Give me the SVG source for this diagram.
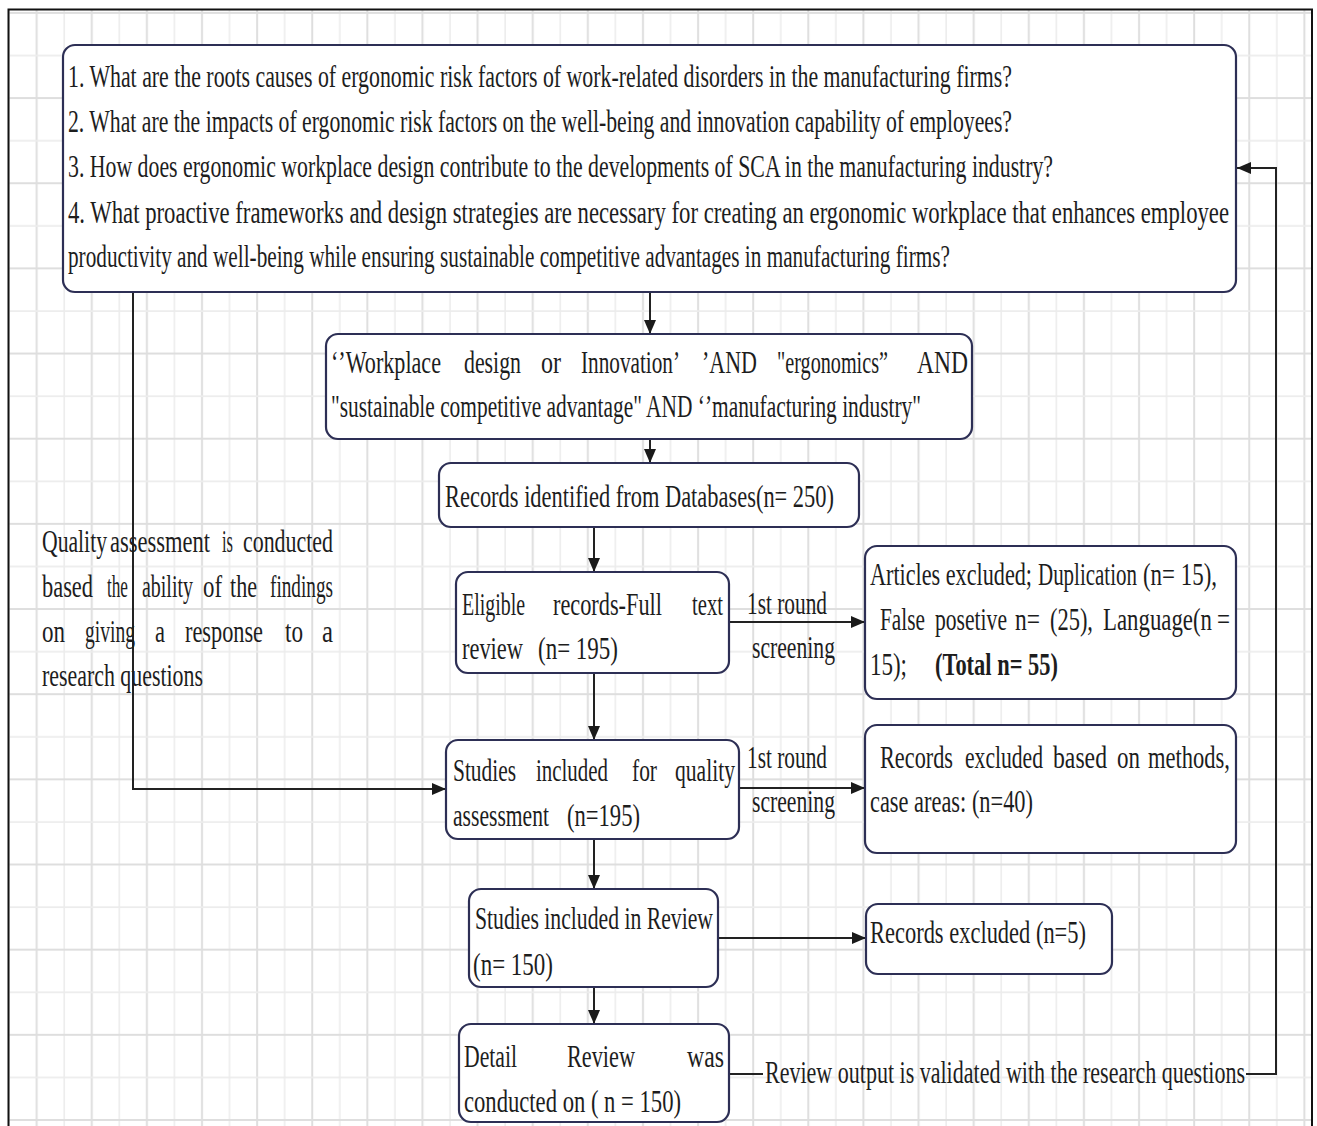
<svg xmlns="http://www.w3.org/2000/svg" width="1317" height="1126" viewBox="0 0 1317 1126">
  <style>
    .t { font-family: "Liberation Serif", "Times New Roman", serif; font-size: 32px; fill: #1d1d1d; }
    .b { font-weight: bold; }
    .box { fill: #ffffff; stroke: #2d2f55; stroke-width: 2.2; }
    .conn { fill: none; stroke: #222222; stroke-width: 2; }
  </style>
  <defs>
    <pattern id="grid" patternUnits="userSpaceOnUse" x="-0.9" y="3" width="55.12" height="85.16">
      <line x1="10" y1="0" x2="10" y2="85.16" stroke="#ededed" stroke-width="1.6"/>
      <line x1="37.56" y1="0" x2="37.56" y2="85.16" stroke="#dedede" stroke-width="2"/>
      <line x1="0" y1="10" x2="55.12" y2="10" stroke="#dedede" stroke-width="2"/>
      <line x1="0" y1="52.58" x2="55.12" y2="52.58" stroke="#ececec" stroke-width="1.6"/>
    </pattern>
    <marker id="arrow" markerUnits="userSpaceOnUse" markerWidth="14" markerHeight="12" refX="14" refY="6" orient="auto">
      <path d="M0,0 L14,6 L0,12 z" fill="#1a1a1a"/>
    </marker>
  </defs>

  <!-- page background with grid; all text below is drawn in a narrowed (x 0.625) frame -->
  <rect x="0" y="0" width="1317" height="1126" fill="#ffffff"/>
  <rect x="9" y="10" width="1303" height="1116" fill="url(#grid)"/>
  <path d="M8.5,1126 V9.5 H1312 V1126" fill="none" stroke="#111111" stroke-width="2"/>

  <!-- connectors -->
  <g id="connectors">
    <path class="conn" d="M650,292 V334" marker-end="url(#arrow)"/>
    <path class="conn" d="M650,440 V463" marker-end="url(#arrow)"/>
    <path class="conn" d="M594,527 V572" marker-end="url(#arrow)"/>
    <path class="conn" d="M729,622 H865" marker-end="url(#arrow)"/>
    <path class="conn" d="M594,673 V740" marker-end="url(#arrow)"/>
    <path class="conn" d="M739,788 H865" marker-end="url(#arrow)"/>
    <path class="conn" d="M594,839 V889" marker-end="url(#arrow)"/>
    <path class="conn" d="M718,938 H866" stroke-width="3" marker-end="url(#arrow)"/>
    <path class="conn" d="M594,987 V1024" marker-end="url(#arrow)"/>
    <path class="conn" d="M729,1074 H763"/>
    <path class="conn" d="M1246,1074 H1276 V168 H1237" marker-end="url(#arrow)"/>
    <path class="conn" d="M133,292 V789 H446" marker-end="url(#arrow)"/>
    <g transform="scale(0.625,1)">
      <text class="t" x="1224" y="1083" textLength="768" lengthAdjust="spacingAndGlyphs">Review output is validated with the research questions</text>
    </g>
  </g>

  <!-- research questions -->
  <g id="questions">
    <rect class="box" x="63" y="45" width="1173" height="247" rx="12"/>
    <g transform="scale(0.625,1)">
      <text class="t" x="108.8" y="87" textLength="1510.4" lengthAdjust="spacingAndGlyphs">1. What are the roots causes of ergonomic risk factors of work-related disorders in the manufacturing firms?</text>
      <text class="t" x="108.8" y="132" textLength="1510.4" lengthAdjust="spacingAndGlyphs">2. What are the impacts of ergonomic risk factors on the well-being and innovation capability of employees?</text>
      <text class="t" x="108.8" y="177" textLength="1576" lengthAdjust="spacingAndGlyphs">3. How does ergonomic workplace design contribute to the developments of SCA in the manufacturing industry?</text>
      <text class="t" x="108.8" y="223" textLength="1857.6" lengthAdjust="spacingAndGlyphs">4. What proactive frameworks and design strategies are necessary for creating an ergonomic workplace that enhances employee</text>
      <text class="t" x="108.8" y="267" textLength="1411.2" lengthAdjust="spacingAndGlyphs">productivity and well-being while ensuring sustainable competitive advantages in manufacturing firms?</text>
    </g>
  </g>

  <!-- search string -->
  <g id="search">
    <rect class="box" x="326" y="334" width="646" height="105" rx="12"/>
    <g transform="scale(0.625,1)">
      <text class="t" y="373"><tspan x="529.6" textLength="176" lengthAdjust="spacingAndGlyphs">‘’Workplace</tspan> <tspan x="742.4" textLength="91.2" lengthAdjust="spacingAndGlyphs">design</tspan> <tspan x="865.6" textLength="32" lengthAdjust="spacingAndGlyphs">or</tspan> <tspan x="929.6" textLength="158.4" lengthAdjust="spacingAndGlyphs">Innovation’</tspan> <tspan x="1123.2" textLength="88" lengthAdjust="spacingAndGlyphs">’AND</tspan> <tspan x="1243.2" textLength="177.6" lengthAdjust="spacingAndGlyphs">"ergonomics”</tspan> <tspan x="1467.2" textLength="81.6" lengthAdjust="spacingAndGlyphs">AND</tspan></text>
      <text class="t" x="529.6" y="417" textLength="944" lengthAdjust="spacingAndGlyphs">"sustainable competitive advantage" AND ‘’manufacturing industry"</text>
    </g>
  </g>

  <g id="identified">
    <rect class="box" x="439" y="463" width="420" height="64" rx="12"/>
    <g transform="scale(0.625,1)">
      <text class="t" x="712" y="507" textLength="622.4" lengthAdjust="spacingAndGlyphs">Records identified from Databases(n= 250)</text>
    </g>
  </g>

  <g id="eligible">
    <rect class="box" x="456" y="572" width="273" height="101" rx="12"/>
    <g transform="scale(0.625,1)">
      <text class="t" y="615"><tspan x="739.2" textLength="100.8" lengthAdjust="spacingAndGlyphs">Eligible</tspan> <tspan x="884.8" textLength="174.4" lengthAdjust="spacingAndGlyphs">records-Full</tspan> <tspan x="1107.2" textLength="49.6" lengthAdjust="spacingAndGlyphs">text</tspan></text>
      <text class="t" y="659"><tspan x="739.2" textLength="97.6" lengthAdjust="spacingAndGlyphs">review</tspan> <tspan x="860.8" textLength="128" lengthAdjust="spacingAndGlyphs">(n= 195)</tspan></text>
    </g>
  </g>

  <g id="screening-1">
    <g transform="scale(0.625,1)">
      <text class="t" x="1195.2" y="614" textLength="128" lengthAdjust="spacingAndGlyphs">1st round</text>
      <text class="t" x="1203.2" y="658" textLength="132.8" lengthAdjust="spacingAndGlyphs">screening</text>
    </g>
  </g>

  <g id="excluded-articles">
    <rect class="box" x="865" y="546" width="371" height="153" rx="12"/>
    <g transform="scale(0.625,1)">
      <text class="t" y="585"><tspan x="1392" textLength="259.2" lengthAdjust="spacingAndGlyphs">Articles excluded;</tspan> <tspan x="1660.8" textLength="158.4" lengthAdjust="spacingAndGlyphs">Duplication</tspan> <tspan x="1828.8" textLength="118.4" lengthAdjust="spacingAndGlyphs">(n= 15),</tspan></text>
      <text class="t" y="630"><tspan x="1408" textLength="72" lengthAdjust="spacingAndGlyphs">False</tspan> <tspan x="1496" textLength="115.2" lengthAdjust="spacingAndGlyphs">posetive</tspan> <tspan x="1624" textLength="40" lengthAdjust="spacingAndGlyphs">n=</tspan> <tspan x="1680" textLength="68.8" lengthAdjust="spacingAndGlyphs">(25),</tspan> <tspan x="1764.8" textLength="174.4" lengthAdjust="spacingAndGlyphs">Language(n</tspan> <tspan x="1947.2" textLength="20.8" lengthAdjust="spacingAndGlyphs">=</tspan></text>
      <text class="t" y="675"><tspan x="1392" textLength="59.2" lengthAdjust="spacingAndGlyphs">15);</tspan> <tspan class="b" x="1496" textLength="196.8" lengthAdjust="spacingAndGlyphs">(Total n= 55)</tspan></text>
    </g>
  </g>

  <g id="quality">
    <rect class="box" x="446" y="740" width="293" height="99" rx="12"/>
    <g transform="scale(0.625,1)">
      <text class="t" y="781"><tspan x="724.8" textLength="100.8" lengthAdjust="spacingAndGlyphs">Studies</tspan> <tspan x="857.6" textLength="115.2" lengthAdjust="spacingAndGlyphs">included</tspan> <tspan x="1011.2" textLength="40" lengthAdjust="spacingAndGlyphs">for</tspan> <tspan x="1080" textLength="96" lengthAdjust="spacingAndGlyphs">quality</tspan></text>
      <text class="t" y="826"><tspan x="724.8" textLength="153.6" lengthAdjust="spacingAndGlyphs">assessment</tspan> <tspan x="907.2" textLength="116.8" lengthAdjust="spacingAndGlyphs">(n=195)</tspan></text>
    </g>
  </g>

  <g id="screening-2">
    <g transform="scale(0.625,1)">
      <text class="t" x="1195.2" y="768" textLength="128" lengthAdjust="spacingAndGlyphs">1st round</text>
      <text class="t" x="1203.2" y="812" textLength="132.8" lengthAdjust="spacingAndGlyphs">screening</text>
    </g>
  </g>

  <g id="excluded-methods">
    <rect class="box" x="865" y="725" width="371" height="128" rx="12"/>
    <g transform="scale(0.625,1)">
      <text class="t" y="768"><tspan x="1408" textLength="116.8" lengthAdjust="spacingAndGlyphs">Records</tspan> <tspan x="1544" textLength="124.8" lengthAdjust="spacingAndGlyphs">excluded</tspan> <tspan x="1684.8" textLength="86.4" lengthAdjust="spacingAndGlyphs">based</tspan> <tspan x="1787.2" textLength="36.8" lengthAdjust="spacingAndGlyphs">on</tspan> <tspan x="1836.8" textLength="131.2" lengthAdjust="spacingAndGlyphs">methods,</tspan></text>
      <text class="t" x="1392" y="812" textLength="260.8" lengthAdjust="spacingAndGlyphs">case areas: (n=40)</text>
    </g>
  </g>

  <g id="included-review">
    <rect class="box" x="469" y="889" width="249" height="98" rx="12"/>
    <g transform="scale(0.625,1)">
      <text class="t" x="760" y="929" textLength="380.8" lengthAdjust="spacingAndGlyphs">Studies included in Review</text>
      <text class="t" x="756.8" y="975" textLength="128" lengthAdjust="spacingAndGlyphs">(n= 150)</text>
    </g>
  </g>

  <g id="excluded-five">
    <rect class="box" x="866" y="904" width="246" height="70" rx="12"/>
    <g transform="scale(0.625,1)">
      <text class="t" x="1392" y="943" textLength="345.6" lengthAdjust="spacingAndGlyphs">Records excluded (n=5)</text>
    </g>
  </g>

  <g id="detail-review">
    <rect class="box" x="459" y="1024" width="270" height="98" rx="12"/>
    <g transform="scale(0.625,1)">
      <text class="t" y="1067"><tspan x="742.4" textLength="84.8" lengthAdjust="spacingAndGlyphs">Detail</tspan> <tspan x="907.2" textLength="108.8" lengthAdjust="spacingAndGlyphs">Review</tspan> <tspan x="1099.2" textLength="59.2" lengthAdjust="spacingAndGlyphs">was</tspan></text>
      <text class="t" x="742.4" y="1112" textLength="347.2" lengthAdjust="spacingAndGlyphs">conducted on ( n = 150)</text>
    </g>
  </g>

  <!-- side note on quality assessment -->
  <g id="quality-note">
    <g transform="scale(0.625,1)">
      <text class="t" y="552"><tspan x="67.2" textLength="104" lengthAdjust="spacingAndGlyphs">Quality</tspan> <tspan x="176" textLength="160" lengthAdjust="spacingAndGlyphs">assessment</tspan> <tspan x="355.2" textLength="17.6" lengthAdjust="spacingAndGlyphs">is</tspan> <tspan x="388.8" textLength="144" lengthAdjust="spacingAndGlyphs">conducted</tspan></text>
      <text class="t" y="597"><tspan x="67.2" textLength="81.6" lengthAdjust="spacingAndGlyphs">based</tspan> <tspan x="171.2" textLength="33.6" lengthAdjust="spacingAndGlyphs">the</tspan> <tspan x="227.2" textLength="81.6" lengthAdjust="spacingAndGlyphs">ability</tspan> <tspan x="324.8" textLength="30.4" lengthAdjust="spacingAndGlyphs">of</tspan> <tspan x="368" textLength="43.2" lengthAdjust="spacingAndGlyphs">the</tspan> <tspan x="432" textLength="100.8" lengthAdjust="spacingAndGlyphs">findings</tspan></text>
      <text class="t" y="642"><tspan x="67.2" textLength="36.8" lengthAdjust="spacingAndGlyphs">on</tspan> <tspan x="136" textLength="80" lengthAdjust="spacingAndGlyphs">giving</tspan> <tspan x="248" textLength="16" lengthAdjust="spacingAndGlyphs">a</tspan> <tspan x="296" textLength="124.8" lengthAdjust="spacingAndGlyphs">response</tspan> <tspan x="456" textLength="28.8" lengthAdjust="spacingAndGlyphs">to</tspan> <tspan x="515.2" textLength="17.6" lengthAdjust="spacingAndGlyphs">a</tspan></text>
      <text class="t" x="67.2" y="686" textLength="257.6" lengthAdjust="spacingAndGlyphs">research questions</text>
    </g>
  </g>
</svg>
